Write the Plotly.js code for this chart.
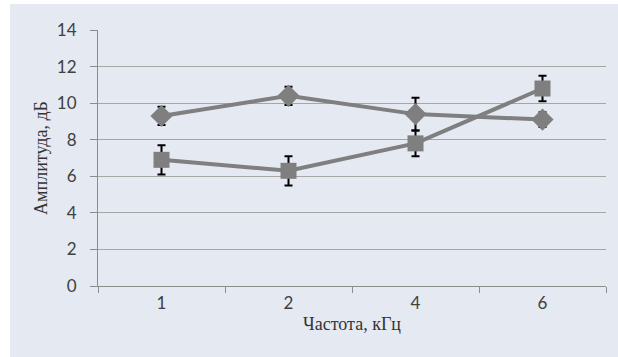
<!DOCTYPE html>
<html>
<head>
<meta charset="utf-8">
<script src="https://cdn.plot.ly/plotly-3.0.1.min.js"></script>
<style>
html,body{margin:0;padding:0;background:#ffffff;}
#chart{position:absolute;left:10px;top:4px;width:608px;height:353px;}
</style>
</head>
<body>
<div id="chart"></div>
<script>
const categories = ['1', '2', '4', '6'];
const obValues = [6.9, 6.3, 7.8, 10.8];
const obErrors = [0.8, 0.8, 0.7, 0.7];
const mbValues = [9.3, 10.4, 9.4, 9.1];
const mbErrors = [0.5, 0.5, 0.9, 0.4];
const seriesNames = ['ОБ', 'МБ'];

const grey = '#7f7f7f';
const traces = [
  {
    x: categories, y: mbValues, type: 'scatter', mode: 'lines+markers', name: seriesNames[1],
    line: {color: grey, width: 4},
    marker: {symbol: 'diamond', size: 17, color: grey},
    error_y: {type: 'data', array: mbErrors, visible: true, color: '#000000', thickness: 2, width: 4}
  },
  {
    x: categories, y: obValues, type: 'scatter', mode: 'lines+markers', name: seriesNames[0],
    line: {color: grey, width: 4},
    marker: {symbol: 'square', size: 16, color: grey},
    error_y: {type: 'data', array: obErrors, visible: true, color: '#000000', thickness: 2, width: 4}
  }
];

const serif = 'Liberation Serif, DejaVu Serif, serif';
const sans = 'Lato, Open Sans, sans-serif';
const last = categories.length - 1;

const layout = {
  width: 608, height: 353,
  margin: {l: 88, r: 12, t: 26, b: 71},
  paper_bgcolor: '#e5e9f1',
  plot_bgcolor: '#e5e9f1',
  showlegend: false,
  xaxis: {
    type: 'category',
    range: [-0.5, 3.5],
    tickson: 'boundaries',
    ticks: 'outside', ticklen: 6, tickcolor: '#8c8c8c', tickwidth: 1,
    showline: true, linecolor: '#8c8c8c', linewidth: 1,
    showgrid: false, zeroline: false,
    ticklabelstandoff: 2,
    tickfont: {family: sans, size: 17, color: '#404040'},
    title: {text: 'Частота, кГц', font: {family: serif, size: 18, color: '#333333'}, standoff: 4}
  },
  yaxis: {
    range: [0, 14], dtick: 2,
    ticks: 'outside', ticklen: 7, tickcolor: '#8c8c8c', tickwidth: 1,
    showline: true, linecolor: '#8c8c8c', linewidth: 1,
    showgrid: true, gridcolor: '#a6a6a6', gridwidth: 1,
    zeroline: false,
    ticklabelstandoff: 10,
    tickfont: {family: sans, size: 17, color: '#404040'},
    title: {text: 'Амплитуда, дБ', font: {family: serif, size: 18, color: '#333333'}, standoff: 4}
  },
  annotations: [
    {x: categories[last], y: obValues[last], xref: 'x', yref: 'y', text: seriesNames[0],
     showarrow: false, xanchor: 'left', xshift: 12, font: {family: serif, size: 18, color: '#333333'}},
    {x: categories[last], y: mbValues[last], xref: 'x', yref: 'y', text: seriesNames[1],
     showarrow: false, xanchor: 'left', xshift: 12, font: {family: serif, size: 18, color: '#333333'}}
  ]
};

Plotly.newPlot('chart', traces, layout, {displayModeBar: false, staticPlot: true});
</script>
</body>
</html>
